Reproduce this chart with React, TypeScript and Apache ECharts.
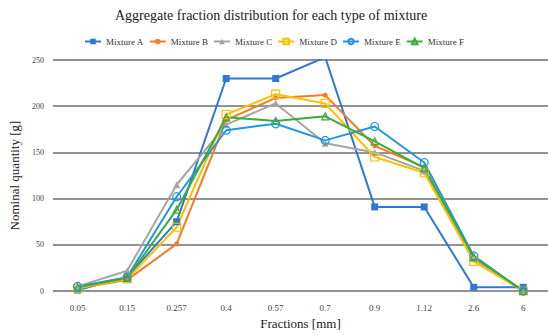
import React, { useEffect, useRef } from "react";
import * as echarts from "echarts";

const categories = ["0.05", "0.15", "0.257", "0.4", "0.57", "0.7", "0.9", "1.12", "2.6", "6"];
const mixA = [1, 15, 75, 230, 230, 253, 91, 91, 4, 4];
const mixB = [3, 12, 51, 185, 209, 212, 157, 134, 35, 0];
const mixC = [5, 22, 115, 180, 203, 160, 150, 130, 35, 0];
const mixD = [3, 13, 69, 191, 213, 203, 145, 128, 32, 0];
const mixE = [5, 15, 102, 174, 181, 163, 178, 139, 38, 0];
const mixF = [4, 14, 88, 188, 184, 189, 162, 133, 37, 0];
const yTicks = [0, 50, 100, 150, 200, 250];

const serif = "'Liberation Serif', 'Times New Roman', serif";

export default function App() {
  const ref = useRef<HTMLDivElement>(null);
  useEffect(() => {
    const chart = echarts.init(ref.current!, undefined, { renderer: "svg" });
    const mk = (name: string, data: number[], color: string, symbol: string, size: number, hollow: boolean) => ({
      name,
      type: "line",
      data,
      symbol,
      symbolSize: size,
      showAllSymbol: true,
      lineStyle: { color, width: 2 },
      itemStyle: hollow
        ? { color: "rgba(255,255,255,0)", borderColor: color, borderWidth: 1.2 }
        : { color, borderColor: color, borderWidth: 0 },
      emphasis: { disabled: true },
    });
    chart.setOption({
      animation: false,
      backgroundColor: "#ffffff",
      textStyle: { fontFamily: serif },
      title: {
        text: "Aggregate fraction distribution for each type of mixture",
        left: 110,
        top: 3,
        textStyle: { fontFamily: serif, fontSize: 14, fontWeight: "normal", color: "#222" },
      },
      legend: {
        top: 32,
        left: 79,
        itemWidth: 16,
        itemHeight: 7,
        itemGap: 5,
        textStyle: { fontFamily: serif, fontSize: 9, color: "#333" },
        data: ["Mixture A", "Mixture B", "Mixture C", "Mixture D", "Mixture E", "Mixture F"],
      },
      grid: { left: 33, right: 2, top: 60, bottom: 36, containLabel: false },
      xAxis: {
        type: "category",
        data: categories,
        boundaryGap: true,
        name: "Fractions [mm]",
        nameLocation: "middle",
        nameGap: 26,
        nameTextStyle: { fontFamily: serif, fontSize: 13, color: "#222" },
        axisLine: { show: false },
        axisTick: { show: false },
        axisLabel: { fontFamily: serif, fontSize: 9, color: "#444", margin: 12 },
      },
      yAxis: {
        type: "value",
        min: 0,
        max: 250,
        interval: 50,
        name: "Nominal quantity [g]",
        nameLocation: "middle",
        nameGap: 26,
        nameTextStyle: { fontFamily: serif, fontSize: 13, color: "#222" },
        axisLine: { show: false },
        axisTick: { show: false },
        axisLabel: {
          fontFamily: serif,
          fontSize: 8,
          color: "#444",
          margin: 9,
          formatter: (v: number) => (yTicks.includes(v) ? String(v) : ""),
        },
        splitLine: { lineStyle: { color: "#6f6f6f", width: 1.5 } },
      },
      series: [
        mk("Mixture A", mixA, "#2F78D6", "rect", 7, false),
        mk("Mixture B", mixB, "#F57C24", "circle", 5, false),
        mk("Mixture C", mixC, "#A5A5A5", "triangle", 7, false),
        mk("Mixture D", mixD, "#FFC000", "rect", 8, true),
        mk("Mixture E", mixE, "#1E98E0", "circle", 8, true),
        mk("Mixture F", mixF, "#3DAA3D", "triangle", 7, true),
      ],
    });
    return () => chart.dispose();
  }, []);
  return <div ref={ref} style={{ width: 550, height: 335, position: "absolute", left: 0, top: 0 }} />;
}
